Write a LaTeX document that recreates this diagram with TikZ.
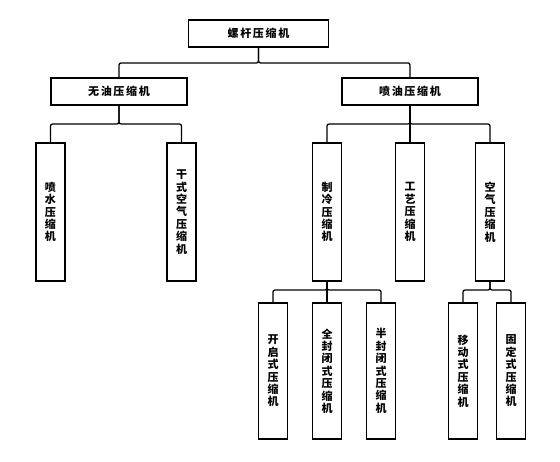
\documentclass[tikz,border=0pt]{standalone}
\usepackage{fontspec}
\newfontfamily\cjk[LetterSpace=15]{Noto Sans CJK SC}
\newfontfamily\cjkv{Noto Sans CJK SC}
\begin{document}
\begin{tikzpicture}[x=1pt,y=-1pt,
  every node/.style={inner sep=0pt, outer sep=0pt},
  hbox/.style={draw, line width=1.3pt, fill=white, font=\cjk\bfseries\fontsize{11}{12}\selectfont, minimum width=136pt, minimum height=27pt},
  vbox/.style={draw, line width=1.3pt, fill=white, font=\cjkv\bfseries\fontsize{11}{12.4}\selectfont, align=center, minimum width=29pt},
  lvthree/.style={vbox, minimum height=138pt},
  lvfour/.style={vbox, minimum height=136pt},
  conn/.style={line width=1.3pt, rounded corners=2pt}]
\useasboundingbox (0,0) rectangle (560,462);
% level 1
\node[hbox, minimum width=140pt] (top) at (258.5,33.5) {螺杆压缩机};
% level 2
\node[hbox] (oilfree) at (119,91.5) {无油压缩机};
\node[hbox] (oilinj) at (410,91.5) {喷油压缩机};
% level 3
\node[lvthree] (water) at (50.5,212) {喷\\水\\压\\缩\\机};
\node[lvthree] (dry) at (181.5,212) {干\\式\\空\\气\\压\\缩\\机};
\node[lvthree] (refr) at (327,212) {制\\冷\\压\\缩\\机};
\node[lvthree] (proc) at (410,212) {工\\艺\\压\\缩\\机};
\node[lvthree] (air) at (490,212) {空\\气\\压\\缩\\机};
% level 4
\node[lvfour] (open) at (273,371) {开\\启\\式\\压\\缩\\机};
\node[lvfour] (herm) at (327,371) {全\\封\\闭\\式\\压\\缩\\机};
\node[lvfour] (semi) at (381,371) {半\\封\\闭\\式\\压\\缩\\机};
\node[lvfour] (mob) at (463,371) {移\\动\\式\\压\\缩\\机};
\node[lvfour] (fix) at (511,371) {固\\定\\式\\压\\缩\\机};
% connectors
\draw[conn] (top.south) -- ++(0,16) -| (oilfree.north);
\draw[conn] (top.south) -- ++(0,16) -| (oilinj.north);
\draw[conn] (oilfree.south) -- ++(0,19) -| (water.north);
\draw[conn] (oilfree.south) -- ++(0,19) -| (dry.north);
\draw[conn] (oilinj.south) -- ++(0,19) -| (refr.north);
\draw[conn] (oilinj.south) -- (proc.north);
\draw[conn] (oilinj.south) -- ++(0,19) -| (air.north);
\draw[conn] (refr.south) -- ++(0,9) -| (open.north);
\draw[conn] (refr.south) -- (herm.north);
\draw[conn] (refr.south) -- ++(0,9) -| (semi.north);
\draw[conn] (air.south) -- ++(0,9) -| (mob.north);
\draw[conn] (air.south) -- ++(0,9) -| (fix.north);
\end{tikzpicture}
\end{document}
